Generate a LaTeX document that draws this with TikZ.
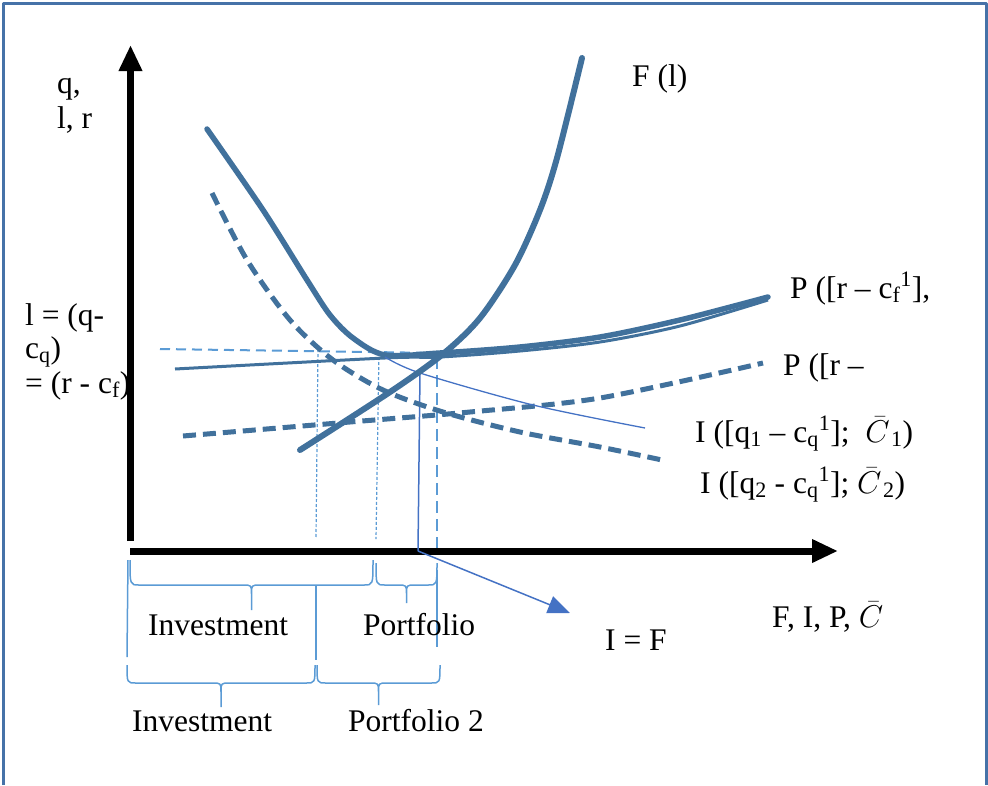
\documentclass[tikz,border=0pt]{standalone}
\usepackage{fix-cm}
\usepackage{fontspec}
\setmainfont{Liberation Serif}
\usetikzlibrary{arrows.meta}
\definecolor{cdark}{HTML}{41719C}
\definecolor{clight}{HTML}{5B9BD5}
\definecolor{cmid}{HTML}{4472C4}
\definecolor{cframe}{HTML}{4672A8}
\tikzset{
  every picture/.style={x=1pt, y=-1pt, line join=round},
  curve/.style={draw=cdark, line width=5.5pt, line cap=round},
  dcurve/.style={draw=cdark, line width=5pt, dash pattern=on 13pt off 7pt},
  guide/.style={draw=clight, line width=1.2pt, dash pattern=on 3pt off 2pt},
  bracepen/.style={draw=clight, line width=1.5pt},
  axis/.style={draw=black, line width=7pt, -{Triangle[length=26pt, width=22pt]}},
  lab/.style={font=\fontsize{31.5}{34}\selectfont, anchor=base west, inner sep=0pt},
}
% x1, x2, top, middle, tip
\newcommand{\bracedown}[5]{%
  \draw[bracepen] (#1,#3) .. controls (#1,#4) .. ({#1+9},#4) -- ({(#1+#2)/2-9},#4)
    .. controls ({(#1+#2)/2},#4) .. ({(#1+#2)/2},{#4+9}) -- ({(#1+#2)/2},#5)
    ({(#1+#2)/2},{#4+9}) .. controls ({(#1+#2)/2},#4) .. ({(#1+#2)/2+9},#4)
    -- ({#2-9},#4) .. controls (#2,#4) .. (#2,#3);}
\newcommand{\cbar}{$\bar{C}$\kern1.5pt}

\begin{document}
\begin{tikzpicture}
  \useasboundingbox (0,0) rectangle (988,785);
  \draw[cframe, line width=3pt] (3,785) -- (3,3) -- (986,3) -- (986,785);
  % ---- axes ----
  \draw[axis] (130.5,541) -- (130.5,45);
  \draw[axis] (130,551) -- (838,551);
  % ---- guide lines ----
  \draw[clight, line width=2pt, dash pattern=on 10pt off 6pt] (160,349) -- (440,353);
  \draw[guide] (318,349) -- (316,537);
  \draw[guide] (379,352) -- (376,539);
  \draw[clight, line width=2.5pt, dash pattern=on 12pt off 6pt] (437,357) -- (437,548);
  \coordinate (ifoot) at (418,551);
  \coordinate (iftip) at (570,613);
  \draw[cmid, line width=1.5pt] (420,372) -- (ifoot);
  \draw[cmid, line width=1.5pt, -{Triangle[length=22pt, width=18pt]}] (ifoot) -- (iftip);
  % ---- curves ----
  \draw[dcurve] plot[smooth] coordinates {(212,193) (247,260) (290,320) (333,360) (383,390)
    (443,412) (520,432) (600,447) (662,460)};
  \draw[dcurve] plot[smooth] coordinates {(183,436) (350,422) (470,412) (600,398) (763,363)};
  \draw[cdark, line width=3pt] plot[smooth] coordinates {(175,369) (385,358) (440,357)
    (520,351) (600,342) (680,326) (768,300)};
  \draw[curve] plot[smooth] coordinates {(207,129) (263,210) (307,280) (330,315) (353,338)
    (385,355) (440,353) (520,347) (600,337) (680,320) (768,297)};
  \draw[cmid, line width=1.3pt] plot[smooth] coordinates {(385,357) (420,373) (533,405) (645,428)};
  \draw[curve, line width=6pt] plot[smooth] coordinates {(300,450) (390,392) (443,354) (480,318)
    (515,265) (540,210) (557,158) (582,58)};
  % ---- braces ----
  \foreach \xa/\xb/\yt/\ym/\yp in {130/373/560/585/610, 376/437/563/585/603,
      127/315/665/683/707, 317/440/665/683/705}
    \bracedown{\xa}{\xb}{\yt}{\ym}{\yp};
  \draw[bracepen] (128,560) -- (127,657);
  \draw[bracepen] (316,585) -- (316,660);
  \draw[bracepen] (437,570) -- (437,647);
  % ---- labels ----
  \node[lab] (qa) at (57,93) {q,};
  \node[lab] (qb) at (57,128) {l, r};
  \node[lab] (la) at (25,325) {l = (q-};
  \node[lab] (lb) at (25,358) {c\textsubscript{q})};
  \node[lab] (lc) at (25,393) {= (r - c\textsubscript{f})};
  \node[lab] (flab) at (632,86) {F (l)};
  \node[lab] (pone) at (790,298) {P ([r – c\textsubscript{f}\textsuperscript{1}],};
  \node[lab] (ptwo) at (783,375) {P ([r –};
  \node[lab] (ione) at (695,442) {I ([q\textsubscript{1} – c\textsubscript{q}\textsuperscript{1}];\ \ \cbar\textsubscript{1})};
  \node[lab] (itwo) at (700,493) {I ([q\textsubscript{2} - c\textsubscript{q}\textsuperscript{1}]; \cbar\textsubscript{2})};
  \node[lab] (inva) at (148,635) {Investment};
  \node[lab] (porta) at (363,635) {Portfolio};
  \node[lab] (invb) at (132,731) {Investment};
  \node[lab] (portb) at (348,731) {Portfolio 2};
  \node[lab] (ieqf) at (605,650) {I = F};
  \node[lab] (xlab) at (772,627) {F, I, P, \cbar};
\end{tikzpicture}
\end{document}
